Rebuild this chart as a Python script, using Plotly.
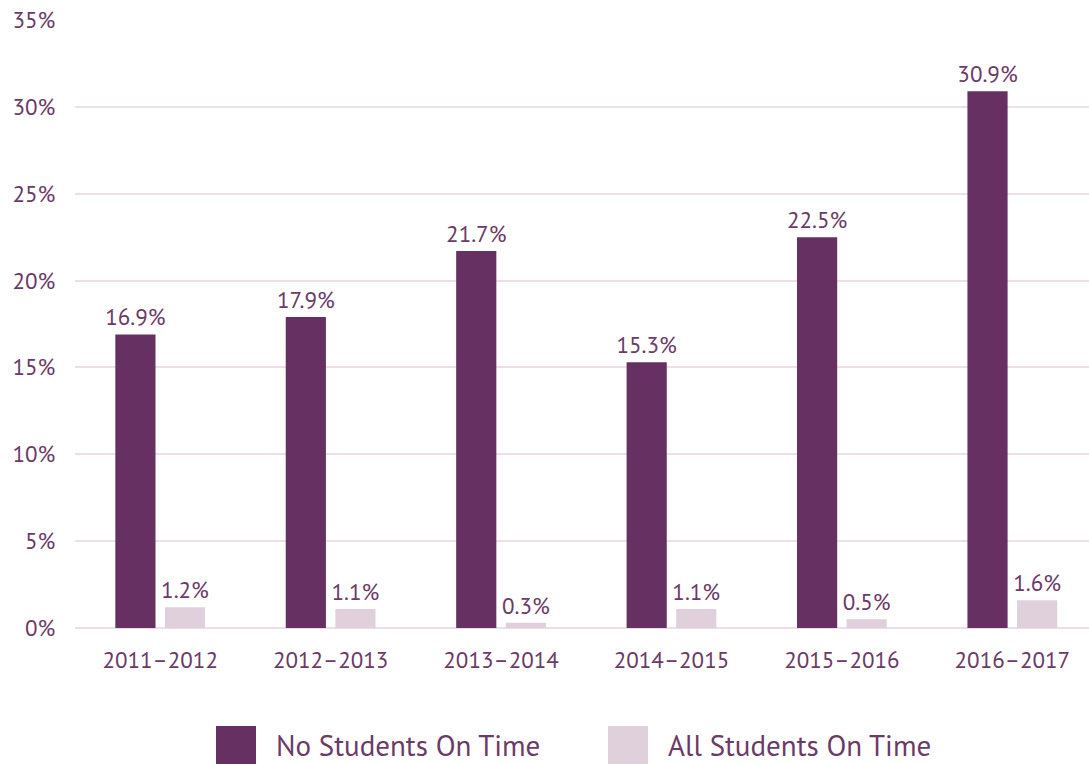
import plotly.graph_objects as go

# School years and the share of days in each outcome category
years = ["2011–2012", "2012–2013", "2013–2014", "2014–2015", "2015–2016", "2016–2017"]
no_students_on_time = [16.9, 17.9, 21.7, 15.3, 22.5, 30.9]
all_students_on_time = [1.2, 1.1, 0.3, 1.1, 0.5, 1.6]
y_ticks = [0, 5, 10, 15, 20, 25, 30, 35]
series_names = ["No Students On Time", "All Students On Time"]

DARK = "#663062"
LIGHT = "#e0d0dc"
TEXT = "#6b3a67"
GRID = "#ecdfe9"
FONT = "PT Sans, Lato, Noto Sans, sans-serif"

fig = go.Figure()
for name, vals, color in [(series_names[0], no_students_on_time, DARK),
                          (series_names[1], all_students_on_time, LIGHT)]:
    fig.add_trace(go.Bar(
        x=years, y=vals, name=name, marker=dict(color=color, line=dict(width=0)),
        text=[f"{v:.1f}%" for v in vals], textposition="outside",
        textfont=dict(family=FONT, size=23, color=TEXT),
        constraintext="none", cliponaxis=False, showlegend=False,
    ))

fig.update_layout(
    width=1089, height=764,
    margin=dict(l=75, r=0, t=20, b=136),
    paper_bgcolor="white", plot_bgcolor="white",
    barmode="group", bargap=0.418, bargroupgap=0.19,
    font=dict(family=FONT, color=TEXT),
    xaxis=dict(range=[-0.5, 5.45], showgrid=False, showline=False, zeroline=False,
               tickfont=dict(family=FONT, size=23, color=TEXT),
               ticks="outside", ticklen=11, tickcolor="rgba(0,0,0,0)"),
    yaxis=dict(range=[0, 35], tickvals=y_ticks, ticktext=[f"{t}%" for t in y_ticks],
               showgrid=True, gridcolor=GRID, gridwidth=2,
               zeroline=True, zerolinecolor=GRID, zerolinewidth=2, showline=False,
               tickfont=dict(family=FONT, size=23, color=TEXT),
               ticks="outside", ticklen=14, tickcolor="rgba(0,0,0,0)"),
)

# Legend drawn as large swatches with labels beneath the plot
legend_items = [(series_names[0], DARK, 216), (series_names[1], LIGHT, 608)]
for label, color, x0 in legend_items:
    fig.add_shape(type="rect", xref="paper", yref="paper",
                  x0=(x0 - 75) / 1014, x1=(x0 + 40 - 75) / 1014,
                  y0=(628 - 764) / 608, y1=(628 - 726) / 608,
                  fillcolor=color, line=dict(width=0))
    fig.add_annotation(text=label, xref="paper", yref="paper",
                       x=(x0 + 58 - 75) / 1014, y=(628 - 745) / 608,
                       xanchor="left", yanchor="middle", showarrow=False,
                       font=dict(family=FONT, size=29, color=TEXT))

fig.write_html("out.html")
